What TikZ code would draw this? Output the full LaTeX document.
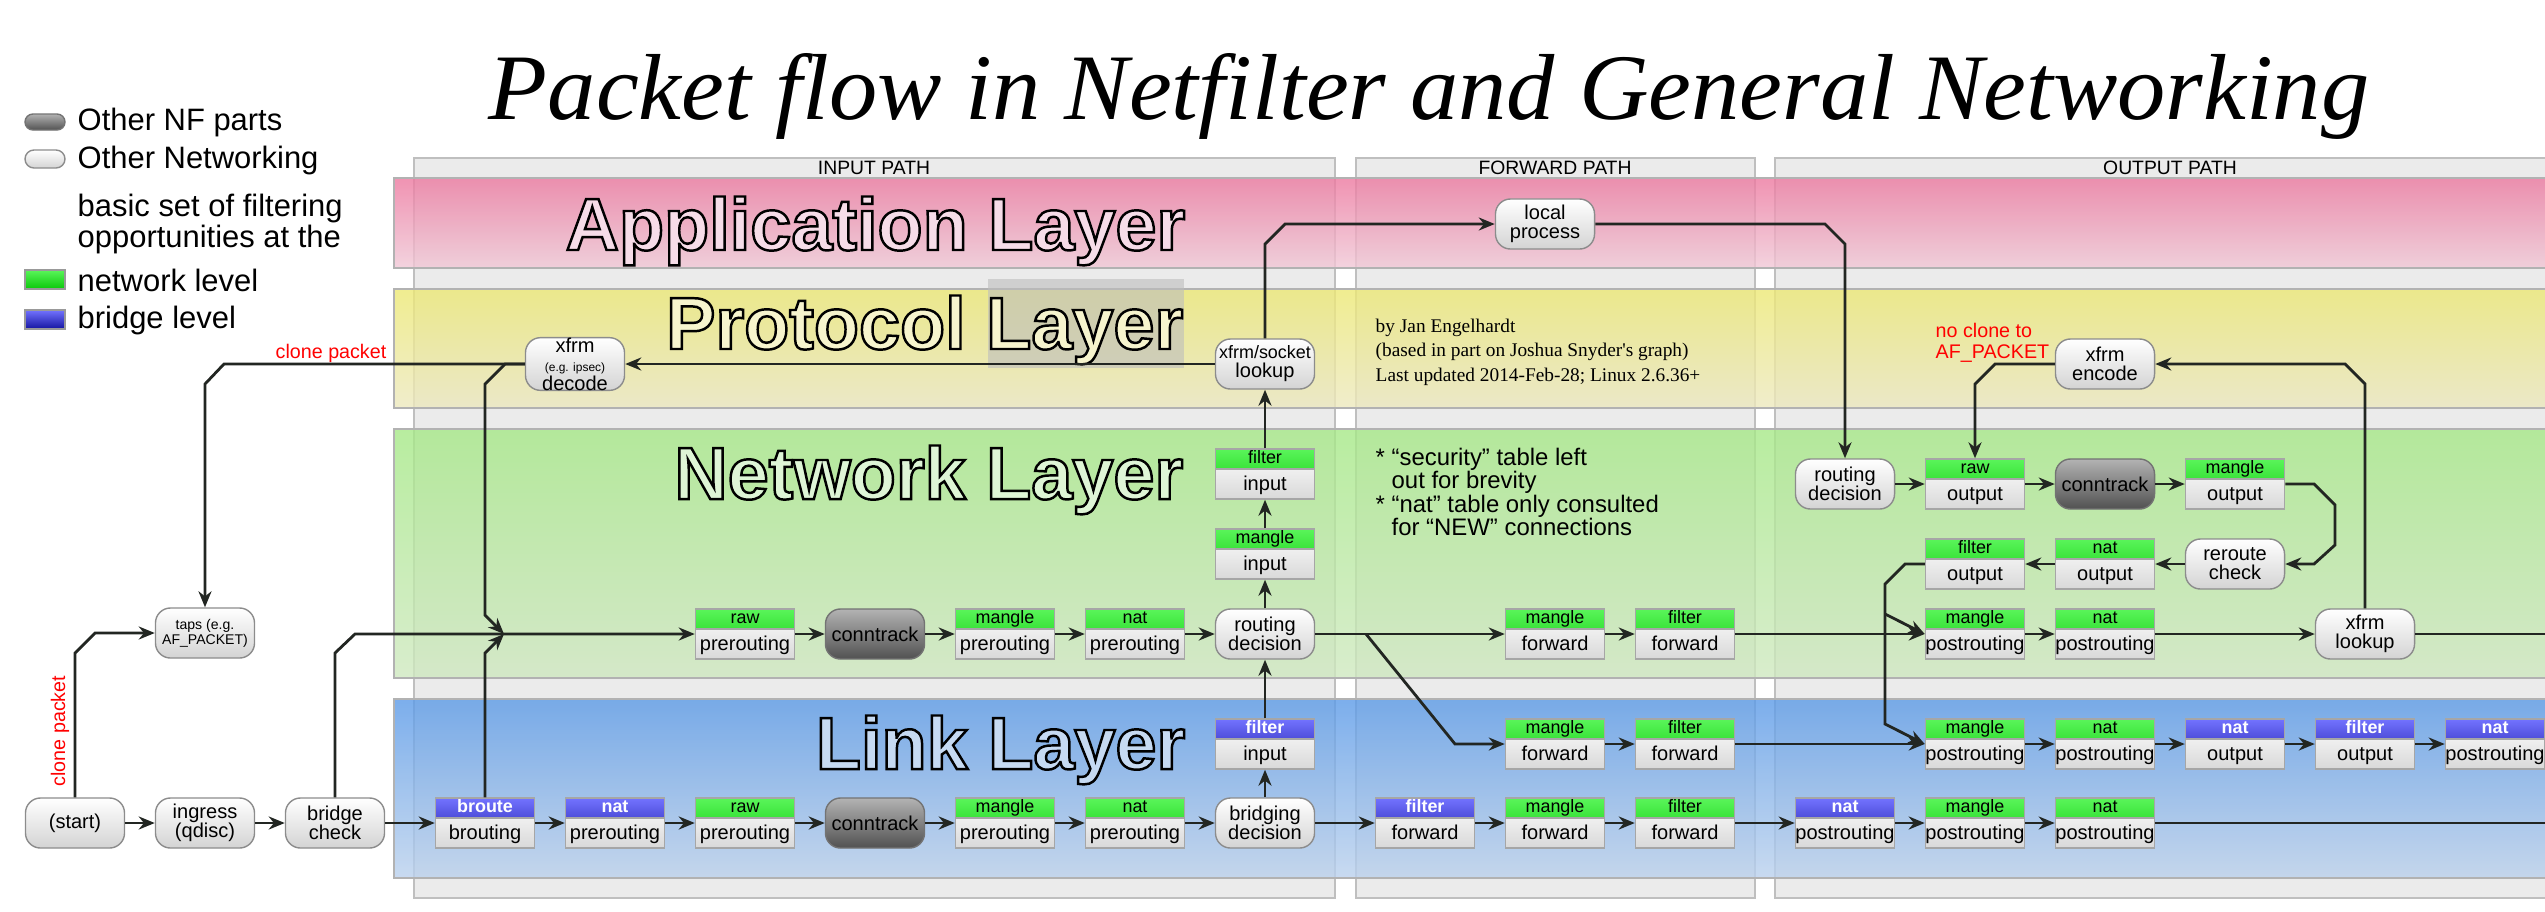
\documentclass[tikz,border=0pt]{standalone}
\usepackage{fontspec}
\setmainfont{Liberation Sans}
\newfontfamily\timesfam{Liberation Serif}
\usepackage{graphicx}
\usetikzlibrary{arrows.meta}

\definecolor{appTop}{RGB}{236,120,159}
\definecolor{appBot}{RGB}{240,200,214}
\definecolor{protoTop}{RGB}{236,232,116}
\definecolor{protoBot}{RGB}{236,232,191}
\definecolor{netTop}{RGB}{166,232,135}
\definecolor{netBot}{RGB}{207,232,192}
\definecolor{linkTop}{RGB}{91,154,231}
\definecolor{linkBot}{RGB}{187,209,236}
\definecolor{appText}{RGB}{246,220,232}
\definecolor{protoText}{RGB}{246,244,205}
\definecolor{netText}{RGB}{222,245,214}
\definecolor{linkText}{RGB}{198,218,242}
\definecolor{pathGray}{RGB}{235,235,235}
\definecolor{hdrGreenTop}{RGB}{90,245,90}
\definecolor{hdrGreenBot}{RGB}{10,200,10}
\definecolor{hdrBlueTop}{RGB}{115,115,255}
\definecolor{hdrBlueBot}{RGB}{20,20,160}
\definecolor{wireCol}{RGB}{34,38,34}

\newcommand\pillfont{\fontsize{5.7}{5.4}\selectfont}
\newcommand\bodyfont{\fontsize{5.7}{6}\selectfont}
\newcommand\hdrfont{\fontsize{5.1}{6}\selectfont}
\newcommand\legfont{\fontsize{8.8}{8.6}\selectfont}
\newcommand\layerfont{\fontsize{21}{21}\selectfont\bfseries}
% outlined text: fill in #1, black stroke
\newcommand\outlined[2]{\textcolor{#1}{\special{pdf:code 0 0 0 RG 0.7 w 2 Tr}#2\special{pdf:code 0 Tr}}}

\tikzset{
  flow/.style={draw=wireCol, line width=0.8pt, -{Stealth[length=1.6mm, width=1.3mm]}},
  wire/.style={draw=wireCol, line width=0.8pt},
  pill/.style={rounded corners=0.15cm, draw=black!45, top color=white, bottom color=black!17,
    minimum width=0.99cm, minimum height=0.5cm, inner sep=0pt, align=center, font=\pillfont},
  nfpart/.style={pill, top color=black!30, bottom color=black!68, draw=black!55},
  tbl/.style={rectangle, draw=black!35, top color=white, bottom color=black!15,
    minimum width=0.99cm, minimum height=0.5cm, inner sep=0pt,
    text height=0.38cm, text depth=0.06cm, font=\bodyfont},
  hdr/.style={font=\hdrfont, anchor=center, yshift=-0.1cm, inner sep=0pt,
    text height=0.13cm, text depth=0.03cm},
  nfbox/.style={tbl, path picture={
      \fill[top color=hdrGreenTop, bottom color=hdrGreenBot] (path picture bounding box.north west) rectangle ([yshift=-0.2cm]path picture bounding box.north east);
      \draw[black!35] ([yshift=-0.2cm]path picture bounding box.north west) -- ([yshift=-0.2cm]path picture bounding box.north east);},
    label={[hdr]north:#1}},
  brbox/.style={tbl, path picture={
      \fill[top color=hdrBlueTop, bottom color=hdrBlueBot] (path picture bounding box.north west) rectangle ([yshift=-0.2cm]path picture bounding box.north east);
      \draw[black!35] ([yshift=-0.2cm]path picture bounding box.north west) -- ([yshift=-0.2cm]path picture bounding box.north east);},
    label={[hdr, text=white, font=\hdrfont\bfseries]north:#1}},
  pathcol/.style={fill=pathGray, draw=black!25, line width=0.6pt},
  layer/.style 2 args={top color=#1, bottom color=#2, fill opacity=0.8, draw=black!30, line width=0.5pt},
  layertitle/.style={anchor=base east, inner sep=0pt, font=\layerfont},
  legtext/.style={anchor=west, inner sep=0pt, font=\legfont, align=left},
  note/.style={text=red, inner sep=0pt, font=\fontsize{5.6}{5.8}\selectfont}
}

\begin{document}
\begin{tikzpicture}[x=0.01cm, y=-0.01cm]
    \useasboundingbox (0,0) rectangle (2545,911);

    % Title
    \node[anchor=base, inner sep=0pt] (title) at (1429,119)
        {\resizebox{18.79cm}{0.66cm}{\timesfam\itshape\fontsize{28}{28}\selectfont Packet flow in Netfilter and General Networking}};

    % Legend
    \node[nfpart, minimum width=0.4cm, minimum height=0.16cm, rounded corners=0.08cm] (legNF) at (45,122) {};
    \node[pill, minimum width=0.4cm, minimum height=0.18cm, rounded corners=0.09cm] (legNet) at (45,159) {};
    \node[legtext] (legNFtxt) at (77,122) {Other NF parts};
    \node[legtext] (legNettxt) at (77,160) {Other Networking};
    \node[legtext] (legBasic) at (77,224) {basic set of filtering\\opportunities at the};
    \draw[top color=hdrGreenTop, bottom color=hdrGreenBot, draw=black!40] (25,270) rectangle (65,289);
    \node[legtext] (legGreen) at (77,280) {network level};
    \draw[top color=hdrBlueTop, bottom color=hdrBlueBot, draw=black!40] (25,310) rectangle (65,329);
    \node[legtext] (legBlue) at (77,320) {bridge level};

    % Path columns
    \draw[pathcol] (414,158) rectangle (1335,898);
    \draw[pathcol] (1356,158) rectangle (1755,898);
    \draw[pathcol] (1775,158) rectangle (2560,898);
    \node[font=\fontsize{5.5}{6}\selectfont] (inHdr) at (874,168) {INPUT PATH};
    \node[font=\fontsize{5.5}{6}\selectfont] (fwdHdr) at (1555,168) {FORWARD PATH};
    \node[font=\fontsize{5.5}{6}\selectfont] (outHdr) at (2170,168) {OUTPUT PATH};

    % Layers
    \draw[layer={appTop}{appBot}] (394,178) rectangle (2560,268);
    \draw[layer={protoTop}{protoBot}] (394,289) rectangle (2560,408);
    \draw[layer={netTop}{netBot}] (394,429) rectangle (2560,678);
    \draw[layer={linkTop}{linkBot}] (394,699) rectangle (2560,878);
    \fill[black!26, fill opacity=0.6] (988,279) rectangle (1184,368);
    \node[layertitle] (appTitle) at (1186,250) {\outlined{appText}{Application Layer}};
    \node[layertitle] (protoTitle) at (1184,349) {\outlined{protoText}{Protocol Layer}};
    \node[layertitle] (netTitle) at (1184,499) {\outlined{netText}{Network Layer}};
    \node[layertitle] (linkTitle) at (1186,769) {\outlined{linkText}{Link Layer}};

    % Credits and notes
    \node[anchor=west, inner sep=0pt, align=left, font=\timesfam\fontsize{5.5}{7}\selectfont] (credit) at (1375,352)
        {by Jan Engelhardt\\(based in part on Joshua Snyder's graph)\\Last updated 2014-Feb-28; Linux 2.6.36+};
    \node[anchor=west, inner sep=0pt, align=left, font=\fontsize{6.8}{6.7}\selectfont] (notes) at (1375,492)
        {* “security” table left\\\phantom{* }out for brevity\\* “nat” table only consulted\\\phantom{* }for “NEW” connections};
    \node[note, anchor=west, align=left] (noclone) at (1935,343) {no clone to\\AF\_PACKET};
    \node[note, anchor=base east] (cloneTxt) at (387,358) {clone packet};
    \node[note, rotate=90] (cloneUp) at (60,731) {clone packet};

    % Ingress side
    \node[pill] (start) at (75,823) {(start)};
    \node[pill] (ingress) at (205,823) {ingress\\(qdisc)};
    \node[pill] (bridgechk) at (335,823) {bridge\\check};
    \node[pill, font=\fontsize{4}{4.3}\selectfont] (taps) at (205,633) {taps (e.g.\\AF\_PACKET)};
    \node[pill] (decode) at (575,364) {xfrm\\{\fontsize{3.4}{3.6}\selectfont (e.g. ipsec)}\\decode};
    \node[pill] (sockLookup) at (1265,364) {{\fontsize{5.1}{5}\selectfont xfrm/socket}\\lookup};
    \node[pill] (localProc) at (1545,224) {local\\process};

    % Link layer, bridge row
    \node[brbox=broute] (broute) at (485,823) {brouting};
    \node[brbox=nat] (brNatPre) at (615,823) {prerouting};
    \node[nfbox=raw] (rawPreL) at (745,823) {prerouting};
    \node[nfpart] (ctL) at (875,823) {conntrack};
    \node[nfbox=mangle] (manglePreL) at (1005,823) {prerouting};
    \node[nfbox=nat] (natPreL) at (1135,823) {prerouting};
    \node[pill] (bridgeDec) at (1265,823) {bridging\\decision};
    \node[brbox=filter] (brFiltIn) at (1265,744) {input};
    \node[brbox=filter] (brFiltFwd) at (1425,823) {forward};
    \node[nfbox=mangle] (mangleFwdL3) at (1555,823) {forward};
    \node[nfbox=filter] (filterFwdL3) at (1685,823) {forward};
    \node[brbox=nat] (brNatPost) at (1845,823) {postrouting};
    \node[nfbox=mangle] (manglePostL3) at (1975,823) {postrouting};
    \node[nfbox=nat] (natPostL3) at (2105,823) {postrouting};

    % Link layer, routed row
    \node[nfbox=mangle] (mangleFwdL2) at (1555,744) {forward};
    \node[nfbox=filter] (filterFwdL2) at (1685,744) {forward};
    \node[nfbox=mangle] (manglePostL2) at (1975,744) {postrouting};
    \node[nfbox=nat] (natPostL2) at (2105,744) {postrouting};
    \node[brbox=nat] (brNatOut) at (2235,744) {output};
    \node[brbox=filter] (brFiltOut) at (2365,744) {output};
    \node[brbox=nat] (brNatPostEnd) at (2495,744) {postrouting};

    % Network layer
    \node[nfbox=raw] (rawPre) at (745,634) {prerouting};
    \node[nfpart] (ctN) at (875,634) {conntrack};
    \node[nfbox=mangle] (manglePre) at (1005,634) {prerouting};
    \node[nfbox=nat] (natPre) at (1135,634) {prerouting};
    \node[pill] (routeIn) at (1265,634) {routing\\decision};
    \node[nfbox=mangle] (mangleIn) at (1265,554) {input};
    \node[nfbox=filter] (filterIn) at (1265,474) {input};
    \node[nfbox=mangle] (mangleFwd) at (1555,634) {forward};
    \node[nfbox=filter] (filterFwd) at (1685,634) {forward};
    \node[nfbox=mangle] (manglePost) at (1975,634) {postrouting};
    \node[nfbox=nat] (natPost) at (2105,634) {postrouting};
    \node[pill] (xfrmLookup) at (2365,634) {xfrm\\lookup};

    % Output path
    \node[pill] (routeOut) at (1845,484) {routing\\decision};
    \node[nfbox=raw] (rawOut) at (1975,484) {output};
    \node[nfpart] (ctOut) at (2105,484) {conntrack};
    \node[nfbox=mangle] (mangleOut) at (2235,484) {output};
    \node[nfbox=filter] (filterOut) at (1975,564) {output};
    \node[nfbox=nat] (natOut) at (2105,564) {output};
    \node[pill] (reroute) at (2235,564) {reroute\\check};
    \node[pill] (encode) at (2105,364) {xfrm\\encode};

    \coordinate (join) at (504,634);
    \coordinate (fork) at (1366,634);
    \coordinate (tapOut) at (1885,614);
    \coordinate (exitN) at (2560,634);
    \coordinate (exitL3) at (2560,823);

    % Ingress connectors
    \draw[flow] (start) -- (ingress);
    \draw[flow] (ingress) -- (bridgechk);
    \draw[flow] (bridgechk) -- (broute);
    \draw[flow] (start.north) -- (75,653) -- (95,633) -- (taps.west);
    \draw[flow] (bridgechk.north) -- (335,653) -- (355,634) -- (rawPre.west);
    \draw[flow] (broute.north) -- (485,653) -- (join);
    \draw[flow] (decode.west) -- (505,364) -- (485,384) -- (485,615) -- (join);
    \draw[flow] (decode.west) -- (224,364) -- (205,384) -- (taps.north);
    \draw[flow] (sockLookup) -- (decode);

    % Bridge row
    \draw[flow] (broute) -- (brNatPre);
    \draw[flow] (brNatPre) -- (rawPreL);
    \draw[flow] (rawPreL) -- (ctL);
    \draw[flow] (ctL) -- (manglePreL);
    \draw[flow] (manglePreL) -- (natPreL);
    \draw[flow] (natPreL) -- (bridgeDec);
    \draw[flow] (bridgeDec) -- (brFiltIn);
    \draw[flow] (brFiltIn) -- (routeIn);
    \draw[flow] (bridgeDec) -- (brFiltFwd);
    \draw[flow] (brFiltFwd) -- (mangleFwdL3);
    \draw[flow] (mangleFwdL3) -- (filterFwdL3);
    \draw[flow] (filterFwdL3) -- (brNatPost);
    \draw[flow] (brNatPost) -- (manglePostL3);
    \draw[flow] (manglePostL3) -- (natPostL3);
    \draw[wire] (natPostL3) -- (exitL3);

    % Network prerouting and input
    \draw[flow] (rawPre) -- (ctN);
    \draw[flow] (ctN) -- (manglePre);
    \draw[flow] (manglePre) -- (natPre);
    \draw[flow] (natPre) -- (routeIn);
    \draw[flow] (routeIn) -- (mangleIn);
    \draw[flow] (mangleIn) -- (filterIn);
    \draw[flow] (filterIn) -- (sockLookup);
    \draw[flow] (sockLookup.north) -- (1265,244) -- (1285,224) -- (localProc.west);
    \draw[flow] (localProc.east) -- (1825,224) -- (1845,244) -- (routeOut.north);

    % Forward
    \draw[flow] (routeIn) -- (mangleFwd);
    \draw[flow] (fork) -- (1455,744) -- (mangleFwdL2);
    \draw[flow] (mangleFwd) -- (filterFwd);
    \draw[flow] (filterFwd) -- (manglePost);
    \draw[flow] (manglePost) -- (natPost);
    \draw[flow] (natPost) -- (xfrmLookup);
    \draw[wire] (xfrmLookup) -- (exitN);
    \draw[flow] (mangleFwdL2) -- (filterFwdL2);
    \draw[flow] (filterFwdL2) -- (manglePostL2);
    \draw[flow] (manglePostL2) -- (natPostL2);
    \draw[flow] (natPostL2) -- (brNatOut);
    \draw[flow] (brNatOut) -- (brFiltOut);
    \draw[flow] (brFiltOut) -- (brNatPostEnd);

    % Output
    \draw[flow] (routeOut) -- (rawOut);
    \draw[flow] (rawOut) -- (ctOut);
    \draw[flow] (ctOut) -- (mangleOut);
    \draw[flow] (mangleOut.east) -- (2314,484) -- (2335,505) -- (2335,545) -- (2314,564) -- (reroute.east);
    \draw[flow] (reroute) -- (natOut);
    \draw[flow] (natOut) -- (filterOut);
    \draw[flow] (filterOut.west) -- (1905,564) -- (1885,584) -- (1885,724) -- (manglePostL2.west);
    \draw[flow] (tapOut) -- (manglePost.west);
    \draw[flow] (xfrmLookup.north) -- (2365,384) -- (2345,364) -- (encode.east);
    \draw[flow] (encode.west) -- (1995,364) -- (1975,384) -- (rawOut.north);
\end{tikzpicture}
\end{document}
